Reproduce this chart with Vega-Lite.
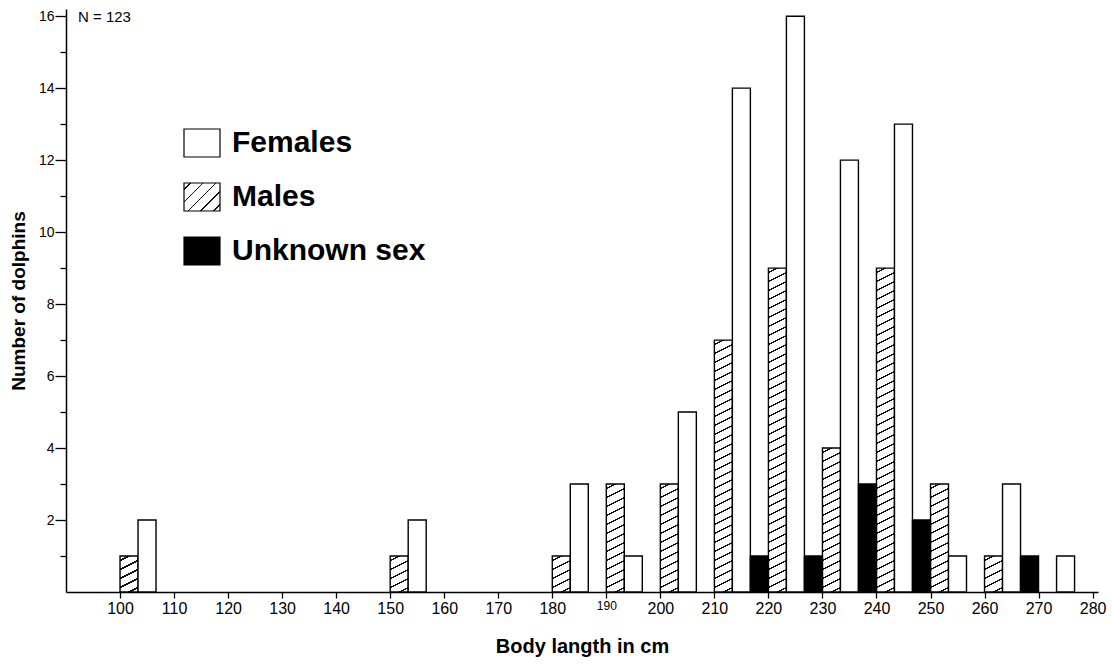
{
  "$schema": "https://vega.github.io/schema/vega-lite/v6.json",
  "width": 1032,
  "height": 583,
  "autosize": "none",
  "padding": {"left": 66, "top": 9, "right": 14, "bottom": 72},
  "background": "white",
  "config": {"view": {"stroke": null}, "font": "Liberation Sans"},
  "title": {"text": "N = 123", "anchor": "start", "orient": "top", "frame": "group", "offset": -16, "dx": 12,
    "font": "Liberation Sans", "fontSize": 15, "fontWeight": "normal", "color": "black"},
  "data": {"values": [
    {"bin": 100, "sex": "Males", "count": 1},
    {"bin": 150, "sex": "Males", "count": 1},
    {"bin": 180, "sex": "Males", "count": 1},
    {"bin": 190, "sex": "Males", "count": 3},
    {"bin": 200, "sex": "Males", "count": 3},
    {"bin": 210, "sex": "Males", "count": 7},
    {"bin": 220, "sex": "Males", "count": 9},
    {"bin": 230, "sex": "Males", "count": 4},
    {"bin": 240, "sex": "Males", "count": 9},
    {"bin": 250, "sex": "Males", "count": 3},
    {"bin": 260, "sex": "Males", "count": 1},
    {"bin": 100, "sex": "Females", "count": 2},
    {"bin": 150, "sex": "Females", "count": 2},
    {"bin": 180, "sex": "Females", "count": 3},
    {"bin": 190, "sex": "Females", "count": 1},
    {"bin": 200, "sex": "Females", "count": 5},
    {"bin": 210, "sex": "Females", "count": 14},
    {"bin": 220, "sex": "Females", "count": 16},
    {"bin": 230, "sex": "Females", "count": 12},
    {"bin": 240, "sex": "Females", "count": 13},
    {"bin": 250, "sex": "Females", "count": 1},
    {"bin": 260, "sex": "Females", "count": 3},
    {"bin": 270, "sex": "Females", "count": 1},
    {"bin": 210, "sex": "Unknown sex", "count": 1},
    {"bin": 220, "sex": "Unknown sex", "count": 1},
    {"bin": 230, "sex": "Unknown sex", "count": 3},
    {"bin": 240, "sex": "Unknown sex", "count": 2},
    {"bin": 260, "sex": "Unknown sex", "count": 1}
  ]},
  "encoding": {
    "x": {"field": "bin", "type": "quantitative",
      "scale": {"domain": [90, 281], "nice": false, "zero": false},
      "axis": {"values": [100,110,120,130,140,150,160,170,180,190,200,210,220,230,240,250,260,270,280],
        "title": "Body langth in cm", "grid": false, "labelOverlap": false, "labelFlush": false,
        "domainColor": "black", "domainWidth": 1.5, "tickColor": "black", "tickWidth": 1.3, "tickSize": 6,
        "labelColor": "black", "labelFont": "Liberation Sans",
        "labelFontSize": {"condition": {"test": "datum.value === 190", "value": 12}, "value": 16},
        "labelPadding": 2,
        "titleFont": "Liberation Sans", "titleFontWeight": "bold", "titleFontSize": 20, "titleColor": "black", "titlePadding": 20}},
    "x2": {"field": "bin"},
    "y": {"field": "count", "type": "quantitative",
      "scale": {"domain": [0, 16.2], "nice": false, "zero": true},
      "axis": {"values": [1,2,3,4,5,6,7,8,9,10,11,12,13,14,15,16],
        "labelExpr": "datum.value % 2 === 0 ? datum.label : ''",
        "title": "Number of dolphins", "grid": false, "labelOverlap": false,
        "domainColor": "black", "domainWidth": 1.5, "tickColor": "black", "tickWidth": 1.3,
        "tickSize": {"condition": {"test": "datum.value % 2 === 1", "value": 6}, "value": 11},
        "labelColor": "black", "labelFont": "Liberation Sans", "labelFontSize": 14, "labelPadding": 1,
        "titleFont": "Liberation Sans", "titleFontWeight": "bold", "titleFontSize": 19, "titleColor": "black", "titlePadding": 10}},
    "y2": {"datum": 0},
    "stroke": {"field": "sex", "type": "nominal",
      "scale": {"domain": ["Females", "Males", "Unknown sex"], "range": ["black", "black", "black"]},
      "legend": {"orient": "none", "legendX": 117, "legendY": 115, "title": null,
        "symbolType": "M-1,-0.7778H1V0.7778H-1Z", "symbolSize": 1296, "symbolStrokeWidth": 1.2,
        "labelFont": "Liberation Sans", "labelFontSize": 30, "labelFontWeight": "bold", "labelColor": "black",
        "labelOffset": 11, "rowPadding": 18, "padding": 0, "labelLimit": 400}},
    "fill": {"field": "sex", "type": "nominal",
      "scale": {"domain": ["Females", "Males", "Unknown sex"],
        "range": ["white",
          {"expr": "{gradient: 'linear', x1: 0, y1: 0, x2: 1.107692, y2: 0.861538, stops: [{offset: 0, color: 'white'}, {offset: 0.0875, color: 'white'}, {offset: 0.0875, color: '#111'}, {offset: 0.1125, color: '#111'}, {offset: 0.1125, color: 'white'}, {offset: 0.2875, color: 'white'}, {offset: 0.2875, color: '#111'}, {offset: 0.3125, color: '#111'}, {offset: 0.3125, color: 'white'}, {offset: 0.4875, color: 'white'}, {offset: 0.4875, color: '#111'}, {offset: 0.5125, color: '#111'}, {offset: 0.5125, color: 'white'}, {offset: 0.6875, color: 'white'}, {offset: 0.6875, color: '#111'}, {offset: 0.7125, color: '#111'}, {offset: 0.7125, color: 'white'}, {offset: 0.8875, color: 'white'}, {offset: 0.8875, color: '#111'}, {offset: 0.9125, color: '#111'}, {offset: 0.9125, color: 'white'}, {offset: 1, color: 'white'}]}"},
          "black"]},
      "legend": {"orient": "none", "legendX": 117, "legendY": 115, "title": null,
        "symbolType": "M-1,-0.7778H1V0.7778H-1Z", "symbolSize": 1296, "symbolStrokeWidth": 1.2,
        "labelFont": "Liberation Sans", "labelFontSize": 30, "labelFontWeight": "bold", "labelColor": "black",
        "labelOffset": 11, "rowPadding": 18, "padding": 0, "labelLimit": 400},
      "condition": [
        {"test": "datum.sex === 'Males' && datum.count === 1", "value":
          {"gradient": "linear", "x1": 0, "y1": 0, "x2": 0.294118, "y2": 1.176471, "stops": [
            {"offset": 0, "color": "white"},
            {"offset": 0.082, "color": "white"}, {"offset": 0.082, "color": "#111"}, {"offset": 0.118, "color": "#111"}, {"offset": 0.118, "color": "white"},
            {"offset": 0.282, "color": "white"}, {"offset": 0.282, "color": "#111"}, {"offset": 0.318, "color": "#111"}, {"offset": 0.318, "color": "white"},
            {"offset": 0.482, "color": "white"}, {"offset": 0.482, "color": "#111"}, {"offset": 0.518, "color": "#111"}, {"offset": 0.518, "color": "white"},
            {"offset": 0.682, "color": "white"}, {"offset": 0.682, "color": "#111"}, {"offset": 0.718, "color": "#111"}, {"offset": 0.718, "color": "white"},
            {"offset": 0.882, "color": "white"}, {"offset": 0.882, "color": "#111"}, {"offset": 0.918, "color": "#111"}, {"offset": 0.918, "color": "white"},
            {"offset": 1, "color": "white"}]}},
        {"test": "datum.sex === 'Males' && datum.count === 3", "value":
          {"gradient": "linear", "x1": 0, "y1": 0, "x2": 0.089655, "y2": 1.075862, "stops": [
            {"offset": 0, "color": "white"},
            {"offset": 0.03154, "color": "white"}, {"offset": 0.03154, "color": "#111"}, {"offset": 0.04538, "color": "#111"}, {"offset": 0.04538, "color": "white"},
            {"offset": 0.10846, "color": "white"}, {"offset": 0.10846, "color": "#111"}, {"offset": 0.12231, "color": "#111"}, {"offset": 0.12231, "color": "white"},
            {"offset": 0.18538, "color": "white"}, {"offset": 0.18538, "color": "#111"}, {"offset": 0.19923, "color": "#111"}, {"offset": 0.19923, "color": "white"},
            {"offset": 0.26231, "color": "white"}, {"offset": 0.26231, "color": "#111"}, {"offset": 0.27615, "color": "#111"}, {"offset": 0.27615, "color": "white"},
            {"offset": 0.33923, "color": "white"}, {"offset": 0.33923, "color": "#111"}, {"offset": 0.35308, "color": "#111"}, {"offset": 0.35308, "color": "white"},
            {"offset": 0.41615, "color": "white"}, {"offset": 0.41615, "color": "#111"}, {"offset": 0.43, "color": "#111"}, {"offset": 0.43, "color": "white"},
            {"offset": 0.49308, "color": "white"}, {"offset": 0.49308, "color": "#111"}, {"offset": 0.50692, "color": "#111"}, {"offset": 0.50692, "color": "white"},
            {"offset": 0.57, "color": "white"}, {"offset": 0.57, "color": "#111"}, {"offset": 0.58385, "color": "#111"}, {"offset": 0.58385, "color": "white"},
            {"offset": 0.64692, "color": "white"}, {"offset": 0.64692, "color": "#111"}, {"offset": 0.66077, "color": "#111"}, {"offset": 0.66077, "color": "white"},
            {"offset": 0.72385, "color": "white"}, {"offset": 0.72385, "color": "#111"}, {"offset": 0.73769, "color": "#111"}, {"offset": 0.73769, "color": "white"},
            {"offset": 0.80077, "color": "white"}, {"offset": 0.80077, "color": "#111"}, {"offset": 0.81462, "color": "#111"}, {"offset": 0.81462, "color": "white"},
            {"offset": 0.87769, "color": "white"}, {"offset": 0.87769, "color": "#111"}, {"offset": 0.89154, "color": "#111"}, {"offset": 0.89154, "color": "white"},
            {"offset": 0.95462, "color": "white"}, {"offset": 0.95462, "color": "#111"}, {"offset": 0.96846, "color": "#111"}, {"offset": 0.96846, "color": "white"},
            {"offset": 1, "color": "white"}]}},
        {"test": "datum.sex === 'Males' && datum.count === 4", "value":
          {"gradient": "linear", "x1": 0, "y1": 0, "x2": 0.066148, "y2": 1.058366, "stops": [
            {"offset": 0, "color": "white"},
            {"offset": 0.02412, "color": "white"}, {"offset": 0.02412, "color": "#111"}, {"offset": 0.03471, "color": "#111"}, {"offset": 0.03471, "color": "white"},
            {"offset": 0.08294, "color": "white"}, {"offset": 0.08294, "color": "#111"}, {"offset": 0.09353, "color": "#111"}, {"offset": 0.09353, "color": "white"},
            {"offset": 0.14176, "color": "white"}, {"offset": 0.14176, "color": "#111"}, {"offset": 0.15235, "color": "#111"}, {"offset": 0.15235, "color": "white"},
            {"offset": 0.20059, "color": "white"}, {"offset": 0.20059, "color": "#111"}, {"offset": 0.21118, "color": "#111"}, {"offset": 0.21118, "color": "white"},
            {"offset": 0.25941, "color": "white"}, {"offset": 0.25941, "color": "#111"}, {"offset": 0.27, "color": "#111"}, {"offset": 0.27, "color": "white"},
            {"offset": 0.31824, "color": "white"}, {"offset": 0.31824, "color": "#111"}, {"offset": 0.32882, "color": "#111"}, {"offset": 0.32882, "color": "white"},
            {"offset": 0.37706, "color": "white"}, {"offset": 0.37706, "color": "#111"}, {"offset": 0.38765, "color": "#111"}, {"offset": 0.38765, "color": "white"},
            {"offset": 0.43588, "color": "white"}, {"offset": 0.43588, "color": "#111"}, {"offset": 0.44647, "color": "#111"}, {"offset": 0.44647, "color": "white"},
            {"offset": 0.49471, "color": "white"}, {"offset": 0.49471, "color": "#111"}, {"offset": 0.50529, "color": "#111"}, {"offset": 0.50529, "color": "white"},
            {"offset": 0.55353, "color": "white"}, {"offset": 0.55353, "color": "#111"}, {"offset": 0.56412, "color": "#111"}, {"offset": 0.56412, "color": "white"},
            {"offset": 0.61235, "color": "white"}, {"offset": 0.61235, "color": "#111"}, {"offset": 0.62294, "color": "#111"}, {"offset": 0.62294, "color": "white"},
            {"offset": 0.67118, "color": "white"}, {"offset": 0.67118, "color": "#111"}, {"offset": 0.68176, "color": "#111"}, {"offset": 0.68176, "color": "white"},
            {"offset": 0.73, "color": "white"}, {"offset": 0.73, "color": "#111"}, {"offset": 0.74059, "color": "#111"}, {"offset": 0.74059, "color": "white"},
            {"offset": 0.78882, "color": "white"}, {"offset": 0.78882, "color": "#111"}, {"offset": 0.79941, "color": "#111"}, {"offset": 0.79941, "color": "white"},
            {"offset": 0.84765, "color": "white"}, {"offset": 0.84765, "color": "#111"}, {"offset": 0.85824, "color": "#111"}, {"offset": 0.85824, "color": "white"},
            {"offset": 0.90647, "color": "white"}, {"offset": 0.90647, "color": "#111"}, {"offset": 0.91706, "color": "#111"}, {"offset": 0.91706, "color": "white"},
            {"offset": 0.96529, "color": "white"}, {"offset": 0.96529, "color": "#111"}, {"offset": 0.97588, "color": "#111"}, {"offset": 0.97588, "color": "white"},
            {"offset": 1, "color": "white"}]}},
        {"test": "datum.sex === 'Males' && datum.count === 7", "value":
          {"gradient": "linear", "x1": 0, "y1": 0, "x2": 0.036943, "y2": 1.034395, "stops": [
            {"offset": 0, "color": "white"},
            {"offset": 0.01414, "color": "white"}, {"offset": 0.01414, "color": "#111"}, {"offset": 0.02034, "color": "#111"}, {"offset": 0.02034, "color": "white"},
            {"offset": 0.04862, "color": "white"}, {"offset": 0.04862, "color": "#111"}, {"offset": 0.05483, "color": "#111"}, {"offset": 0.05483, "color": "white"},
            {"offset": 0.0831, "color": "white"}, {"offset": 0.0831, "color": "#111"}, {"offset": 0.08931, "color": "#111"}, {"offset": 0.08931, "color": "white"},
            {"offset": 0.11759, "color": "white"}, {"offset": 0.11759, "color": "#111"}, {"offset": 0.1238, "color": "#111"}, {"offset": 0.1238, "color": "white"},
            {"offset": 0.15207, "color": "white"}, {"offset": 0.15207, "color": "#111"}, {"offset": 0.15828, "color": "#111"}, {"offset": 0.15828, "color": "white"},
            {"offset": 0.18655, "color": "white"}, {"offset": 0.18655, "color": "#111"}, {"offset": 0.19276, "color": "#111"}, {"offset": 0.19276, "color": "white"},
            {"offset": 0.22103, "color": "white"}, {"offset": 0.22103, "color": "#111"}, {"offset": 0.22724, "color": "#111"}, {"offset": 0.22724, "color": "white"},
            {"offset": 0.25552, "color": "white"}, {"offset": 0.25552, "color": "#111"}, {"offset": 0.26172, "color": "#111"}, {"offset": 0.26172, "color": "white"},
            {"offset": 0.29, "color": "white"}, {"offset": 0.29, "color": "#111"}, {"offset": 0.29621, "color": "#111"}, {"offset": 0.29621, "color": "white"},
            {"offset": 0.32448, "color": "white"}, {"offset": 0.32448, "color": "#111"}, {"offset": 0.33069, "color": "#111"}, {"offset": 0.33069, "color": "white"},
            {"offset": 0.35897, "color": "white"}, {"offset": 0.35897, "color": "#111"}, {"offset": 0.36517, "color": "#111"}, {"offset": 0.36517, "color": "white"},
            {"offset": 0.39345, "color": "white"}, {"offset": 0.39345, "color": "#111"}, {"offset": 0.39966, "color": "#111"}, {"offset": 0.39966, "color": "white"},
            {"offset": 0.42793, "color": "white"}, {"offset": 0.42793, "color": "#111"}, {"offset": 0.43414, "color": "#111"}, {"offset": 0.43414, "color": "white"},
            {"offset": 0.46241, "color": "white"}, {"offset": 0.46241, "color": "#111"}, {"offset": 0.46862, "color": "#111"}, {"offset": 0.46862, "color": "white"},
            {"offset": 0.4969, "color": "white"}, {"offset": 0.4969, "color": "#111"}, {"offset": 0.5031, "color": "#111"}, {"offset": 0.5031, "color": "white"},
            {"offset": 0.53138, "color": "white"}, {"offset": 0.53138, "color": "#111"}, {"offset": 0.53759, "color": "#111"}, {"offset": 0.53759, "color": "white"},
            {"offset": 0.56586, "color": "white"}, {"offset": 0.56586, "color": "#111"}, {"offset": 0.57207, "color": "#111"}, {"offset": 0.57207, "color": "white"},
            {"offset": 0.60034, "color": "white"}, {"offset": 0.60034, "color": "#111"}, {"offset": 0.60655, "color": "#111"}, {"offset": 0.60655, "color": "white"},
            {"offset": 0.63483, "color": "white"}, {"offset": 0.63483, "color": "#111"}, {"offset": 0.64103, "color": "#111"}, {"offset": 0.64103, "color": "white"},
            {"offset": 0.66931, "color": "white"}, {"offset": 0.66931, "color": "#111"}, {"offset": 0.67552, "color": "#111"}, {"offset": 0.67552, "color": "white"},
            {"offset": 0.70379, "color": "white"}, {"offset": 0.70379, "color": "#111"}, {"offset": 0.71, "color": "#111"}, {"offset": 0.71, "color": "white"},
            {"offset": 0.73828, "color": "white"}, {"offset": 0.73828, "color": "#111"}, {"offset": 0.74448, "color": "#111"}, {"offset": 0.74448, "color": "white"},
            {"offset": 0.77276, "color": "white"}, {"offset": 0.77276, "color": "#111"}, {"offset": 0.77897, "color": "#111"}, {"offset": 0.77897, "color": "white"},
            {"offset": 0.80724, "color": "white"}, {"offset": 0.80724, "color": "#111"}, {"offset": 0.81345, "color": "#111"}, {"offset": 0.81345, "color": "white"},
            {"offset": 0.84172, "color": "white"}, {"offset": 0.84172, "color": "#111"}, {"offset": 0.84793, "color": "#111"}, {"offset": 0.84793, "color": "white"},
            {"offset": 0.87621, "color": "white"}, {"offset": 0.87621, "color": "#111"}, {"offset": 0.88241, "color": "#111"}, {"offset": 0.88241, "color": "white"},
            {"offset": 0.91069, "color": "white"}, {"offset": 0.91069, "color": "#111"}, {"offset": 0.9169, "color": "#111"}, {"offset": 0.9169, "color": "white"},
            {"offset": 0.94517, "color": "white"}, {"offset": 0.94517, "color": "#111"}, {"offset": 0.95138, "color": "#111"}, {"offset": 0.95138, "color": "white"},
            {"offset": 0.97966, "color": "white"}, {"offset": 0.97966, "color": "#111"}, {"offset": 0.98586, "color": "#111"}, {"offset": 0.98586, "color": "white"},
            {"offset": 1, "color": "white"}]}},
        {"test": "datum.sex === 'Males' && datum.count === 9", "value":
          {"gradient": "linear", "x1": 0, "y1": 0, "x2": 0.028527, "y2": 1.026985, "stops": [
            {"offset": 0, "color": "white"},
            {"offset": 0.01108, "color": "white"}, {"offset": 0.01108, "color": "#111"}, {"offset": 0.01595, "color": "#111"}, {"offset": 0.01595, "color": "white"},
            {"offset": 0.03811, "color": "white"}, {"offset": 0.03811, "color": "#111"}, {"offset": 0.04297, "color": "#111"}, {"offset": 0.04297, "color": "white"},
            {"offset": 0.06514, "color": "white"}, {"offset": 0.06514, "color": "#111"}, {"offset": 0.07, "color": "#111"}, {"offset": 0.07, "color": "white"},
            {"offset": 0.09216, "color": "white"}, {"offset": 0.09216, "color": "#111"}, {"offset": 0.09703, "color": "#111"}, {"offset": 0.09703, "color": "white"},
            {"offset": 0.11919, "color": "white"}, {"offset": 0.11919, "color": "#111"}, {"offset": 0.12405, "color": "#111"}, {"offset": 0.12405, "color": "white"},
            {"offset": 0.14622, "color": "white"}, {"offset": 0.14622, "color": "#111"}, {"offset": 0.15108, "color": "#111"}, {"offset": 0.15108, "color": "white"},
            {"offset": 0.17324, "color": "white"}, {"offset": 0.17324, "color": "#111"}, {"offset": 0.17811, "color": "#111"}, {"offset": 0.17811, "color": "white"},
            {"offset": 0.20027, "color": "white"}, {"offset": 0.20027, "color": "#111"}, {"offset": 0.20514, "color": "#111"}, {"offset": 0.20514, "color": "white"},
            {"offset": 0.2273, "color": "white"}, {"offset": 0.2273, "color": "#111"}, {"offset": 0.23216, "color": "#111"}, {"offset": 0.23216, "color": "white"},
            {"offset": 0.25432, "color": "white"}, {"offset": 0.25432, "color": "#111"}, {"offset": 0.25919, "color": "#111"}, {"offset": 0.25919, "color": "white"},
            {"offset": 0.28135, "color": "white"}, {"offset": 0.28135, "color": "#111"}, {"offset": 0.28622, "color": "#111"}, {"offset": 0.28622, "color": "white"},
            {"offset": 0.30838, "color": "white"}, {"offset": 0.30838, "color": "#111"}, {"offset": 0.31324, "color": "#111"}, {"offset": 0.31324, "color": "white"},
            {"offset": 0.33541, "color": "white"}, {"offset": 0.33541, "color": "#111"}, {"offset": 0.34027, "color": "#111"}, {"offset": 0.34027, "color": "white"},
            {"offset": 0.36243, "color": "white"}, {"offset": 0.36243, "color": "#111"}, {"offset": 0.3673, "color": "#111"}, {"offset": 0.3673, "color": "white"},
            {"offset": 0.38946, "color": "white"}, {"offset": 0.38946, "color": "#111"}, {"offset": 0.39432, "color": "#111"}, {"offset": 0.39432, "color": "white"},
            {"offset": 0.41649, "color": "white"}, {"offset": 0.41649, "color": "#111"}, {"offset": 0.42135, "color": "#111"}, {"offset": 0.42135, "color": "white"},
            {"offset": 0.44351, "color": "white"}, {"offset": 0.44351, "color": "#111"}, {"offset": 0.44838, "color": "#111"}, {"offset": 0.44838, "color": "white"},
            {"offset": 0.47054, "color": "white"}, {"offset": 0.47054, "color": "#111"}, {"offset": 0.47541, "color": "#111"}, {"offset": 0.47541, "color": "white"},
            {"offset": 0.49757, "color": "white"}, {"offset": 0.49757, "color": "#111"}, {"offset": 0.50243, "color": "#111"}, {"offset": 0.50243, "color": "white"},
            {"offset": 0.52459, "color": "white"}, {"offset": 0.52459, "color": "#111"}, {"offset": 0.52946, "color": "#111"}, {"offset": 0.52946, "color": "white"},
            {"offset": 0.55162, "color": "white"}, {"offset": 0.55162, "color": "#111"}, {"offset": 0.55649, "color": "#111"}, {"offset": 0.55649, "color": "white"},
            {"offset": 0.57865, "color": "white"}, {"offset": 0.57865, "color": "#111"}, {"offset": 0.58351, "color": "#111"}, {"offset": 0.58351, "color": "white"},
            {"offset": 0.60568, "color": "white"}, {"offset": 0.60568, "color": "#111"}, {"offset": 0.61054, "color": "#111"}, {"offset": 0.61054, "color": "white"},
            {"offset": 0.6327, "color": "white"}, {"offset": 0.6327, "color": "#111"}, {"offset": 0.63757, "color": "#111"}, {"offset": 0.63757, "color": "white"},
            {"offset": 0.65973, "color": "white"}, {"offset": 0.65973, "color": "#111"}, {"offset": 0.66459, "color": "#111"}, {"offset": 0.66459, "color": "white"},
            {"offset": 0.68676, "color": "white"}, {"offset": 0.68676, "color": "#111"}, {"offset": 0.69162, "color": "#111"}, {"offset": 0.69162, "color": "white"},
            {"offset": 0.71378, "color": "white"}, {"offset": 0.71378, "color": "#111"}, {"offset": 0.71865, "color": "#111"}, {"offset": 0.71865, "color": "white"},
            {"offset": 0.74081, "color": "white"}, {"offset": 0.74081, "color": "#111"}, {"offset": 0.74568, "color": "#111"}, {"offset": 0.74568, "color": "white"},
            {"offset": 0.76784, "color": "white"}, {"offset": 0.76784, "color": "#111"}, {"offset": 0.7727, "color": "#111"}, {"offset": 0.7727, "color": "white"},
            {"offset": 0.79486, "color": "white"}, {"offset": 0.79486, "color": "#111"}, {"offset": 0.79973, "color": "#111"}, {"offset": 0.79973, "color": "white"},
            {"offset": 0.82189, "color": "white"}, {"offset": 0.82189, "color": "#111"}, {"offset": 0.82676, "color": "#111"}, {"offset": 0.82676, "color": "white"},
            {"offset": 0.84892, "color": "white"}, {"offset": 0.84892, "color": "#111"}, {"offset": 0.85378, "color": "#111"}, {"offset": 0.85378, "color": "white"},
            {"offset": 0.87595, "color": "white"}, {"offset": 0.87595, "color": "#111"}, {"offset": 0.88081, "color": "#111"}, {"offset": 0.88081, "color": "white"},
            {"offset": 0.90297, "color": "white"}, {"offset": 0.90297, "color": "#111"}, {"offset": 0.90784, "color": "#111"}, {"offset": 0.90784, "color": "white"},
            {"offset": 0.93, "color": "white"}, {"offset": 0.93, "color": "#111"}, {"offset": 0.93486, "color": "#111"}, {"offset": 0.93486, "color": "white"},
            {"offset": 0.95703, "color": "white"}, {"offset": 0.95703, "color": "#111"}, {"offset": 0.96189, "color": "#111"}, {"offset": 0.96189, "color": "white"},
            {"offset": 0.98405, "color": "white"}, {"offset": 0.98405, "color": "#111"}, {"offset": 0.98892, "color": "#111"}, {"offset": 0.98892, "color": "white"},
            {"offset": 1, "color": "white"}]}}
      ]
    }
  },
  "layer": [
    {"transform": [{"filter": "datum.sex === 'Males'"}],
     "mark": {"type": "bar", "xOffset": 0, "x2Offset": 18, "strokeWidth": 1.4}},
    {"transform": [{"filter": "datum.sex === 'Females'"}],
     "mark": {"type": "bar", "xOffset": 18, "x2Offset": 36, "strokeWidth": 1.4}},
    {"transform": [{"filter": "datum.sex === 'Unknown sex'"}],
     "mark": {"type": "bar", "xOffset": 36, "x2Offset": 54, "strokeWidth": 1.4}}
  ]
}
